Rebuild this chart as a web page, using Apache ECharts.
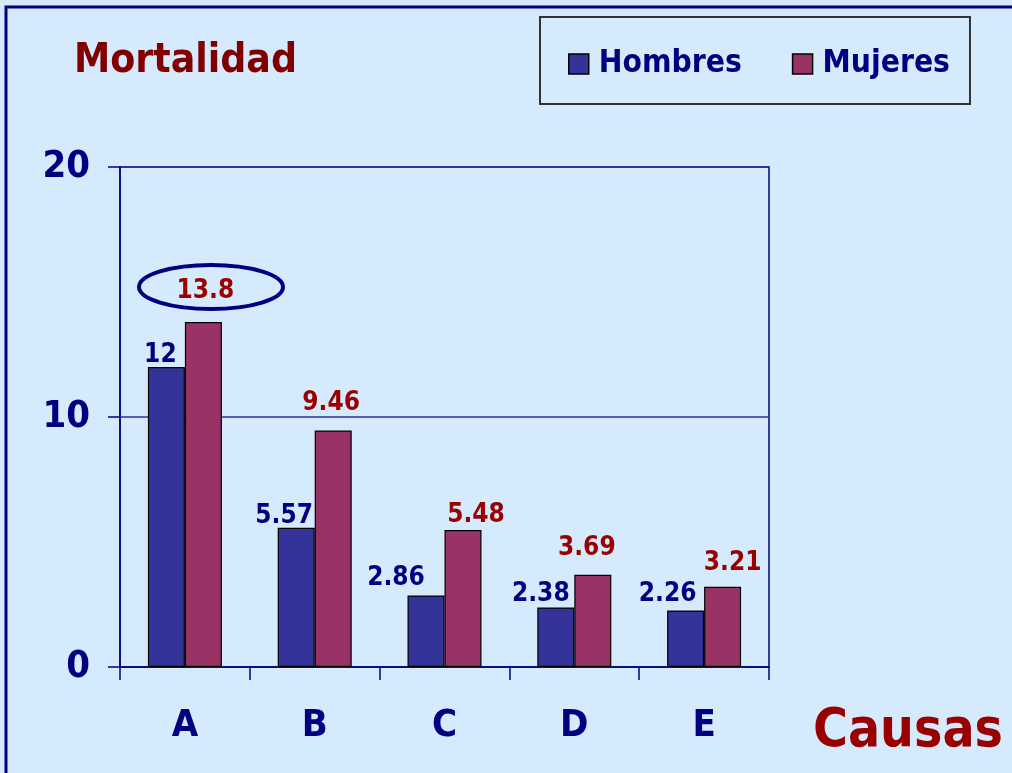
<!DOCTYPE html>
<html><head><meta charset="utf-8">
<script src="https://cdn.jsdelivr.net/npm/echarts@6/dist/echarts.min.js"></script>
<style>html,body{margin:0;padding:0;background:#d5eafc;}#c{width:1012px;height:773px;}</style>
</head><body><div id="c"></div>
<script>
const categories = ['A', 'B', 'C', 'D', 'E'];
const hombres = [12, 5.57, 2.86, 2.38, 2.26];
const mujeres = [13.8, 9.46, 5.48, 3.69, 3.21];
const yTicks = { min: 0, max: 20, interval: 10 };
// label nudges (style only)
const hombresLabelOffset = [[-6, 1], [-12, 1], [-30, -4], [-15, 0], [-18, -3]];
const mujeresLabelOffset = [[2, -18], [-2, -14], [13, -2], [-6, -14], [10, -11]];

const FONT = '"DejaVu Sans Condensed", "DejaVu Sans", sans-serif';
const NAVY = '#000080';
const chart = echarts.init(document.getElementById('c'));
function mk(vals, offs) {
  return vals.map((v, i) => ({ value: v, label: { offset: offs[i] } }));
}
chart.setOption({
  backgroundColor: '#d5eafc',
  animation: false,
  grid: { left: 120, right: 243, top: 167, bottom: 106, show: true, borderColor: NAVY, borderWidth: 1.5, containLabel: false },
  legend: {
    left: 540, top: 17, orient: 'horizontal', icon: 'rect',
    padding: [31, 20, 24, 28], itemGap: 50,
    borderColor: '#333', borderWidth: 2,
    itemWidth: 20, itemHeight: 20,
    itemStyle: { borderColor: '#000', borderWidth: 1.5 },
    textStyle: { fontFamily: FONT, fontWeight: 'bold', fontSize: 31.5, color: NAVY, padding: [0, 0, 0, 5] },
    data: ['Hombres', 'Mujeres']
  },
  xAxis: {
    type: 'category', data: categories,
    axisLine: { lineStyle: { color: NAVY, width: 1.5 } },
    axisTick: { show: true, length: 13, lineStyle: { color: NAVY, width: 1.5 } },
    axisLabel: { margin: 40, fontFamily: FONT, fontWeight: 'bold', fontSize: 38, color: NAVY },
    splitLine: { show: false }
  },
  yAxis: {
    type: 'value', min: yTicks.min, max: yTicks.max, interval: yTicks.interval,
    axisLine: { show: true, lineStyle: { color: NAVY, width: 1.5 } },
    axisTick: { show: true, length: 12, lineStyle: { color: NAVY, width: 1.5 } },
    axisLabel: { margin: 30, fontFamily: FONT, fontWeight: 'bold', fontSize: 38, color: NAVY },
    splitLine: { show: true, lineStyle: { color: '#2e2e99', width: 1.5 } }
  },
  series: [
    { name: 'Hombres', type: 'bar', barWidth: 37, barGap: '0%',
      itemStyle: { color: '#333399', borderColor: '#000', borderWidth: 1.2 },
      label: { show: true, position: 'top', distance: 0, fontFamily: FONT, fontWeight: 'bold', fontSize: 26, color: NAVY },
      data: mk(hombres, hombresLabelOffset) },
    { name: 'Mujeres', type: 'bar', barWidth: 37, barGap: '0%',
      itemStyle: { color: '#993366', borderColor: '#000', borderWidth: 1.2 },
      label: { show: true, position: 'top', distance: 0, fontFamily: FONT, fontWeight: 'bold', fontSize: 26, color: '#990000' },
      data: mk(mujeres, mujeresLabelOffset) }
  ],
  graphic: [
    { type: 'rect', shape: { x: 6, y: 7, width: 1100, height: 800 }, style: { fill: 'none', stroke: NAVY, lineWidth: 3 }, silent: true },
    { type: 'text', left: 74, top: 41, style: { text: 'Mortalidad', font: 'bold 40.5px ' + FONT, fill: '#800000' } },
    { type: 'text', right: 9, top: 706, style: { text: 'Causas', font: 'bold 53px ' + FONT, fill: '#990000' } },
    { type: 'ellipse', shape: { cx: 211, cy: 287, rx: 72, ry: 22 }, style: { fill: 'none', stroke: NAVY, lineWidth: 4 }, z: 10 }
  ]
});
</script></body></html>
